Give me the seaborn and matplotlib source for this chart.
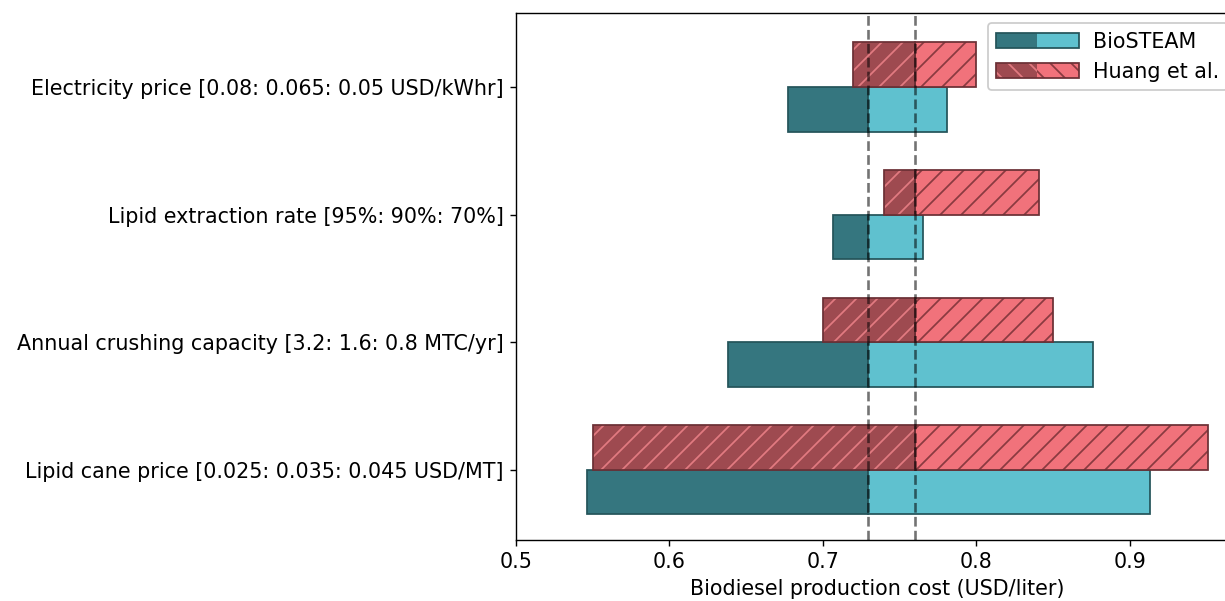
import matplotlib
matplotlib.use("Agg")
import matplotlib.pyplot as plt
import matplotlib.patches as mpatches
from matplotlib.legend_handler import HandlerBase
import seaborn as sns

# data (bottom to top)
parameters = [
    "Lipid cane price [0.025: 0.035: 0.045 USD/MT]",
    "Annual crushing capacity [3.2: 1.6: 0.8 MTC/yr]",
    "Lipid extraction rate [95%: 90%: 70%]",
    "Electricity price [0.08: 0.065: 0.05 USD/kWhr]",
]
biosteam_base = 0.729
biosteam_low = [0.546, 0.638, 0.7065, 0.677]
biosteam_high = [0.913, 0.876, 0.765, 0.781]
huang_base = 0.760
huang_low = [0.550, 0.700, 0.740, 0.7195]
huang_high = [0.951, 0.850, 0.841, 0.800]

bio_dark, bio_light = "#35767f", "#5fc1cf"
hua_dark, hua_light = "#9e4a50", "#f1727b"
edge_bio = "#24545a"
edge_hua = "#6b3035"
hatch_on_dark = "#e27a81"
hatch_on_light = "#8a3a40"

sns.set_style("ticks")
plt.rcParams["font.family"] = ["DejaVu Sans"]
plt.rcParams["hatch.linewidth"] = 1.0
for k in ["text.color", "axes.labelcolor", "xtick.color", "ytick.color", "axes.edgecolor"]:
    plt.rcParams[k] = "black"

FS = 11.8
DPI = 126
fig = plt.figure(figsize=(1225 / DPI, 601 / DPI), dpi=DPI)
ax = fig.add_axes([516 / 1225, 61 / 601, 722 / 1225, 527 / 601])

h = 0.35
ypos = list(range(len(parameters)))


def hatched(y, left, right, face, hatch_col, edge):
    # face with hatch lines in their own colour, outline on top
    ax.barh(y, right - left, left=left, height=h, color=face,
            edgecolor=hatch_col, hatch="//", linewidth=0, zorder=2)
    ax.barh(y, right - left, left=left, height=h, fill=False,
            edgecolor=edge, linewidth=1, zorder=3)


for i, y in enumerate(ypos):
    yb = y - h / 2
    yh = y + h / 2
    # BioSTEAM
    ax.barh(yb, biosteam_base - biosteam_low[i], left=biosteam_low[i], height=h,
            color=bio_dark, edgecolor=edge_bio, linewidth=1, zorder=2)
    ax.barh(yb, biosteam_high[i] - biosteam_base, left=biosteam_base, height=h,
            color=bio_light, edgecolor=edge_bio, linewidth=1, zorder=2)
    # Huang et al.
    hatched(yh, huang_low[i], huang_base, hua_dark, hatch_on_dark, edge_hua)
    hatched(yh, huang_base, huang_high[i], hua_light, hatch_on_light, edge_hua)

ax.axvline(biosteam_base, color="k", ls="--", alpha=0.55, lw=1.5, zorder=4)
ax.axvline(huang_base, color="k", ls="--", alpha=0.55, lw=1.5, zorder=4)

ax.set_yticks(ypos)
ax.set_yticklabels(parameters, fontsize=FS)
ax.set_xlim(0.5, 0.5 + 722 / 1535)
ax.set_ylim(-0.55, 3.58)
ax.set_xticks([0.5, 0.6, 0.7, 0.8, 0.9])
ax.set_xticklabels(["0.5", "0.6", "0.7", "0.8", "0.9"], fontsize=FS)
ax.set_xlabel("Biodiesel production cost (USD/liter)", fontsize=FS)
ax.tick_params(axis="both", direction="out", length=3.5, width=0.8,
               left=True, bottom=True)
for s in ax.spines.values():
    s.set_linewidth(0.8)


class TwoTone(HandlerBase):
    def __init__(self, dark, light, edge, hatch=None, hcols=(None, None)):
        super().__init__()
        self.dark, self.light, self.edge = dark, light, edge
        self.hatch, self.hcols = hatch, hcols

    def create_artists(self, legend, orig, xd, yd, w, hgt, fontsize, trans):
        arts = []
        for k, col in enumerate([self.dark, self.light]):
            r = mpatches.Rectangle((xd + k * w / 2, yd), w / 2, hgt,
                                   facecolor=col, linewidth=0, transform=trans)
            if self.hatch:
                r.set_hatch(self.hatch)
                r.set_edgecolor(self.hcols[k])
            arts.append(r)
        arts.append(mpatches.Rectangle((xd, yd), w, hgt, fill=False,
                                       edgecolor=self.edge, linewidth=1,
                                       transform=trans))
        return arts


p1 = mpatches.Patch(label="BioSTEAM")
p2 = mpatches.Patch(label="Huang et al.")
ax.legend(handles=[p1, p2], loc="upper right", fontsize=FS, handlelength=4.0,
          handletextpad=0.7, framealpha=1, edgecolor="#cccccc",
          handler_map={p1: TwoTone(bio_dark, bio_light, edge_bio),
                       p2: TwoTone(hua_dark, hua_light, edge_hua, "\\\\",
                                   (hatch_on_dark, hatch_on_light))})

fig.savefig("out.png", dpi=DPI)
